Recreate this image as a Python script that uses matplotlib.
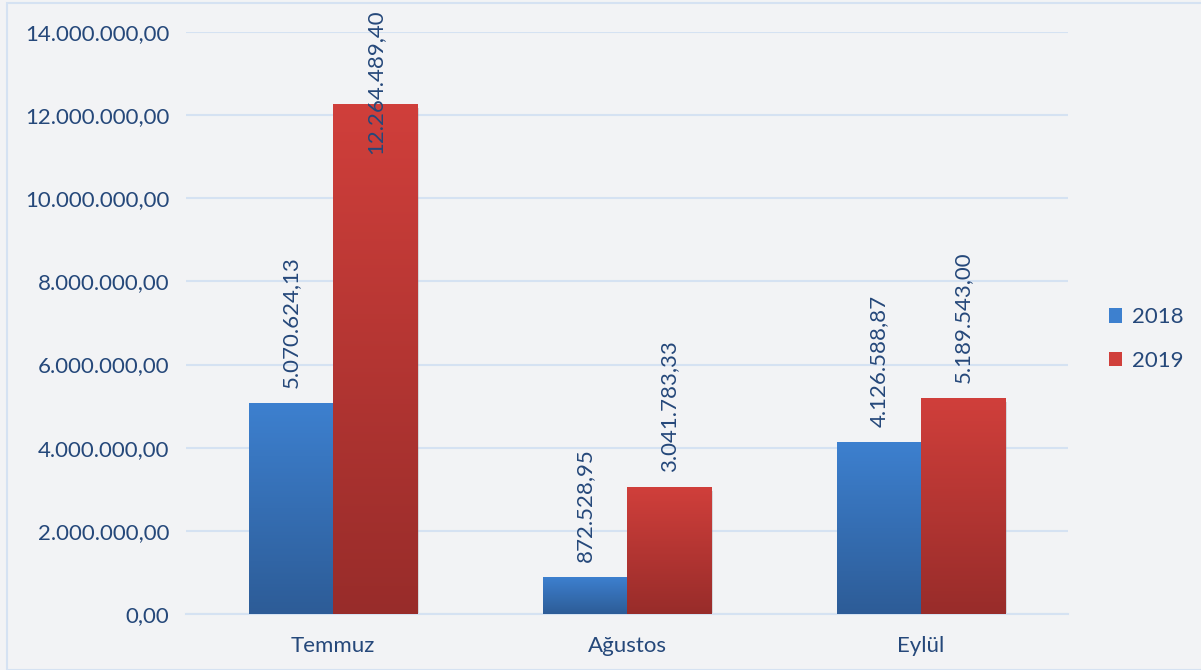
import matplotlib

matplotlib.use("Agg")
import matplotlib.pyplot as plt
import numpy as np
from matplotlib.colors import LinearSegmentedColormap
from matplotlib.patches import Patch, Rectangle

months = ["Temmuz", "Ağustos", "Eylül"]
series_names = ["2018", "2019"]
values_2018 = [5070624.13, 872528.95, 4126588.87]
values_2019 = [12264489.40, 3041783.33, 5189543.00]
yticks = [0, 2000000, 4000000, 6000000, 8000000, 10000000, 12000000, 14000000]

INK = "#25487A"
GRID = "#D5E2F2"
BG = "#F2F3F5"
BLUE_TOP, BLUE_BOT = "#3D80CF", "#2D5C97"
RED_TOP, RED_BOT = "#D03F3B", "#982C2A"

plt.rcParams.update({"font.family": ["Lato", "DejaVu Sans"], "font.size": 16})


def tr_number(v):
    s = f"{v:,.2f}"
    return s.replace(",", "X").replace(".", ",").replace("X", ".")


fig = plt.figure(figsize=(12.01, 6.70), dpi=100, facecolor=BG)
ax = fig.add_axes([0.1549, 0.0836, 0.7344, 0.8686])
ax.set_facecolor(BG)

x = np.arange(len(months))
width = 0.2875
ymax = 14000000

grad = np.linspace(1, 0, 256).reshape(-1, 1)
series = [
    (values_2018, -width / 2, BLUE_TOP, BLUE_BOT),
    (values_2019, width / 2, RED_TOP, RED_BOT),
]
for vals, shift, top, bot in series:
    cmap = LinearSegmentedColormap.from_list("g", [bot, top])
    for xi, v in zip(x, vals):
        x0 = xi + shift - width / 2
        # soft shadow under the bar
        ax.add_patch(Rectangle((x0 + 0.005, -90000), width, v, color="#9AA0A8",
                               alpha=0.35, lw=0, zorder=2))
        ax.imshow(grad, extent=[x0, x0 + width, 0, v], cmap=cmap, aspect="auto",
                  zorder=3, interpolation="bilinear")
        label = tr_number(v)
        if v > 0.75 * ymax:
            ax.annotate(label, (xi + shift, ymax), xytext=(0, 16),
                        textcoords="offset points", rotation=90, ha="center",
                        va="top", color=INK, annotation_clip=False, zorder=5)
        else:
            ax.annotate(label, (xi + shift, v), xytext=(0, 11),
                        textcoords="offset points", rotation=90, ha="center",
                        va="bottom", color=INK, zorder=5)

ax.set_xlim(-0.5, len(months) - 0.5)
ax.set_ylim(0, ymax)
ax.set_yticks(yticks, [tr_number(t) for t in yticks])
ax.set_xticks(x, months)
ax.tick_params(length=0, colors=INK, pad=12)
ax.tick_params(axis="x", pad=16)
ax.grid(axis="y", color=GRID, lw=1.5, zorder=0)
ax.set_axisbelow(True)
for side in ["top", "right", "left"]:
    ax.spines[side].set_visible(False)
ax.spines["bottom"].set_color(GRID)
ax.spines["bottom"].set_linewidth(1.5)

handles = [Patch(facecolor=BLUE_TOP, edgecolor="none"),
           Patch(facecolor=RED_TOP, edgecolor="none")]
fig.legend(handles, series_names, loc="center left", bbox_to_anchor=(0.923, 0.494),
           frameon=False, handlelength=0.6, handleheight=0.6, handletextpad=0.45,
           labelspacing=1.05, borderpad=0, borderaxespad=0, labelcolor=INK)

fig.patches.append(Rectangle((0.006, 0.0), 1.2, 0.995, transform=fig.transFigure,
                             fill=False, edgecolor=GRID, lw=1.5))

fig.savefig("out.png", dpi=100, facecolor=BG)
